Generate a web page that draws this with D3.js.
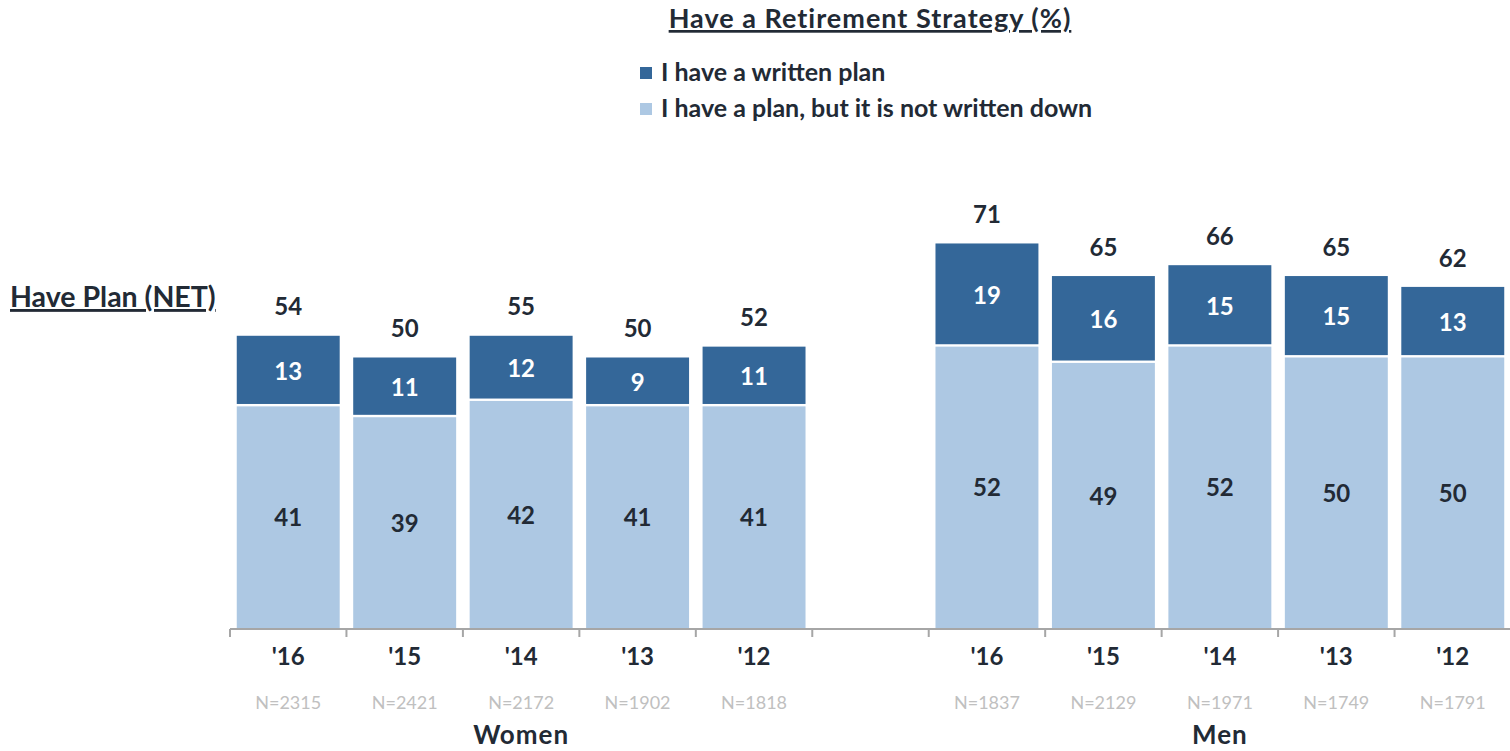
<!DOCTYPE html>
<html>
<head>
<meta charset="utf-8">
<script src="https://cdn.jsdelivr.net/npm/d3@7"></script>
<style>
  html, body { margin: 0; padding: 0; background: #fff; }
  svg { display: block; }
  text { font-family: "Lato", "Open Sans", sans-serif; }
</style>
</head>
<body>
<svg id="chart" width="1510" height="751"></svg>
<script>
// Survey groups and years
const groups = ["Women", "Men"];
const years = ["'16", "'15", "'14", "'13", "'12"];

// Percent with a written plan / a plan that is not written down / net
const womenWritten = [13, 11, 12, 9, 11];
const womenNotWritten = [41, 39, 42, 41, 41];
const womenNet = [54, 50, 55, 50, 52];
const menWritten = [19, 16, 15, 15, 13];
const menNotWritten = [52, 49, 52, 50, 50];
const menNet = [71, 65, 66, 65, 62];

// Sample sizes
const womenN = [2315, 2421, 2172, 1902, 1818];
const menN = [1837, 2129, 1971, 1749, 1791];

const seriesNames = ["I have a written plan", "I have a plan, but it is not written down"];
const colors = { written: "#346799", notWritten: "#adc8e3" };
const textDark = "#222a35";

// Build rows: women, an empty spacer slot, then men
const rows = [];
years.forEach((y, i) => rows.push({ key: "W" + i, group: "Women", year: y,
  written: womenWritten[i], notWritten: womenNotWritten[i], net: womenNet[i], n: womenN[i] }));
rows.push({ key: "gap", spacer: true });
years.forEach((y, i) => rows.push({ key: "M" + i, group: "Men", year: y,
  written: menWritten[i], notWritten: menNotWritten[i], net: menNet[i], n: menN[i] }));
const bars = rows.filter(d => !d.spacer);

const svg = d3.select("#chart");
const left = 230, right = 1511, baseY = 629;

const x = d3.scaleBand()
  .domain(rows.map(d => d.key))
  .range([left, right])
  .paddingInner(0.116)
  .paddingOuter(0.058);

const y = d3.scaleLinear().domain([0, 100]).range([baseY, baseY - 543]);

const stack = d3.stack().keys(["notWritten", "written"]);
const layers = stack(bars);

const sep = 2.4; // white gap between stacked segments

const g = svg.append("g");
layers.forEach(layer => {
  g.selectAll(null)
    .data(layer)
    .join("rect")
    .attr("x", d => x(d.data.key))
    .attr("width", x.bandwidth())
    .attr("y", d => y(d[1]))
    .attr("height", d => Math.max(0, y(d[0]) - y(d[1]) - (d[0] > 0 ? sep : 0)))
    .attr("fill", colors[layer.key]);
});

// Segment value labels
layers.forEach(layer => {
  g.selectAll(null)
    .data(layer)
    .join("text")
    .attr("x", d => x(d.data.key) + x.bandwidth() / 2)
    .attr("y", d => (y(d[0]) + y(d[1])) / 2)
    .attr("dy", "0.36em")
    .attr("text-anchor", "middle")
    .attr("font-size", 24)
    .attr("font-weight", 700)
    .attr("fill", layer.key === "written" ? "#ffffff" : textDark)
    .text(d => d.data[layer.key]);
});

// Net totals above each bar
g.selectAll(null)
  .data(bars)
  .join("text")
  .attr("x", d => x(d.key) + x.bandwidth() / 2)
  .attr("y", d => y(d.written + d.notWritten) - 29)
  .attr("dy", "0.36em")
  .attr("text-anchor", "middle")
  .attr("font-size", 24)
  .attr("font-weight", 700)
  .attr("fill", textDark)
  .text(d => d.net);

// Category axis with ticks at slot boundaries
const step = x.step();
const tickXs = d3.range(rows.length + 1).map(i => left + i * step);
const axisG = svg.append("g");
axisG.append("line")
  .attr("x1", left).attr("x2", right)
  .attr("y1", baseY).attr("y2", baseY)
  .attr("stroke", "#a6a6a6").attr("stroke-width", 2);
axisG.selectAll(null)
  .data(tickXs)
  .join("line")
  .attr("x1", d => d).attr("x2", d => d)
  .attr("y1", baseY).attr("y2", baseY + 8)
  .attr("stroke", "#a6a6a6").attr("stroke-width", 2);

// Year labels
axisG.selectAll(null)
  .data(bars)
  .join("text")
  .attr("x", d => x(d.key) + x.bandwidth() / 2)
  .attr("y", 656)
  .attr("dy", "0.36em")
  .attr("text-anchor", "middle")
  .attr("font-size", 24)
  .attr("font-weight", 700)
  .attr("fill", textDark)
  .text(d => d.year);

// Sample sizes
axisG.selectAll(null)
  .data(bars)
  .join("text")
  .attr("x", d => x(d.key) + x.bandwidth() / 2)
  .attr("y", 703)
  .attr("dy", "0.36em")
  .attr("text-anchor", "middle")
  .attr("font-size", 18)
  .attr("fill", "#c0c0c0")
  .text(d => "N=" + d.n);

// Group labels centred under each group of bars
groups.forEach(name => {
  const keys = bars.filter(d => d.group === name).map(d => d.key);
  const cx = (x(keys[0]) + x(keys[keys.length - 1]) + x.bandwidth()) / 2;
  svg.append("text")
    .attr("x", cx)
    .attr("y", 744)
    .attr("text-anchor", "middle")
    .attr("font-size", 26)
    .attr("font-weight", 700)
    .attr("letter-spacing", 1)
    .attr("fill", textDark)
    .text(name);
});

// Title
svg.append("text")
  .attr("x", 870)
  .attr("y", 28)
  .attr("text-anchor", "middle")
  .attr("font-size", 27)
  .attr("font-weight", 700)
  .attr("letter-spacing", 1)
  .attr("fill", textDark)
  .attr("text-decoration", "underline")
  .text("Have a Retirement Strategy (%)");

// Side label
svg.append("text")
  .attr("x", 10)
  .attr("y", 307)
  .attr("font-size", 28.5)
  .attr("font-weight", 700)
  .attr("fill", textDark)
  .attr("text-decoration", "underline")
  .text("Have Plan (NET)");

// Legend
const legend = svg.append("g").attr("transform", "translate(640,0)");
const legendItems = [
  { name: seriesNames[0], color: colors.written, cy: 73 },
  { name: seriesNames[1], color: colors.notWritten, cy: 109 }
];
legendItems.forEach(it => {
  legend.append("rect")
    .attr("x", 0).attr("y", it.cy - 6)
    .attr("width", 12).attr("height", 12)
    .attr("fill", it.color);
  legend.append("text")
    .attr("x", 21).attr("y", it.cy + 8)
    .attr("font-size", 25)
    .attr("font-weight", 700)
    .attr("fill", textDark)
    .text(it.name);
});
</script>
</body>
</html>
